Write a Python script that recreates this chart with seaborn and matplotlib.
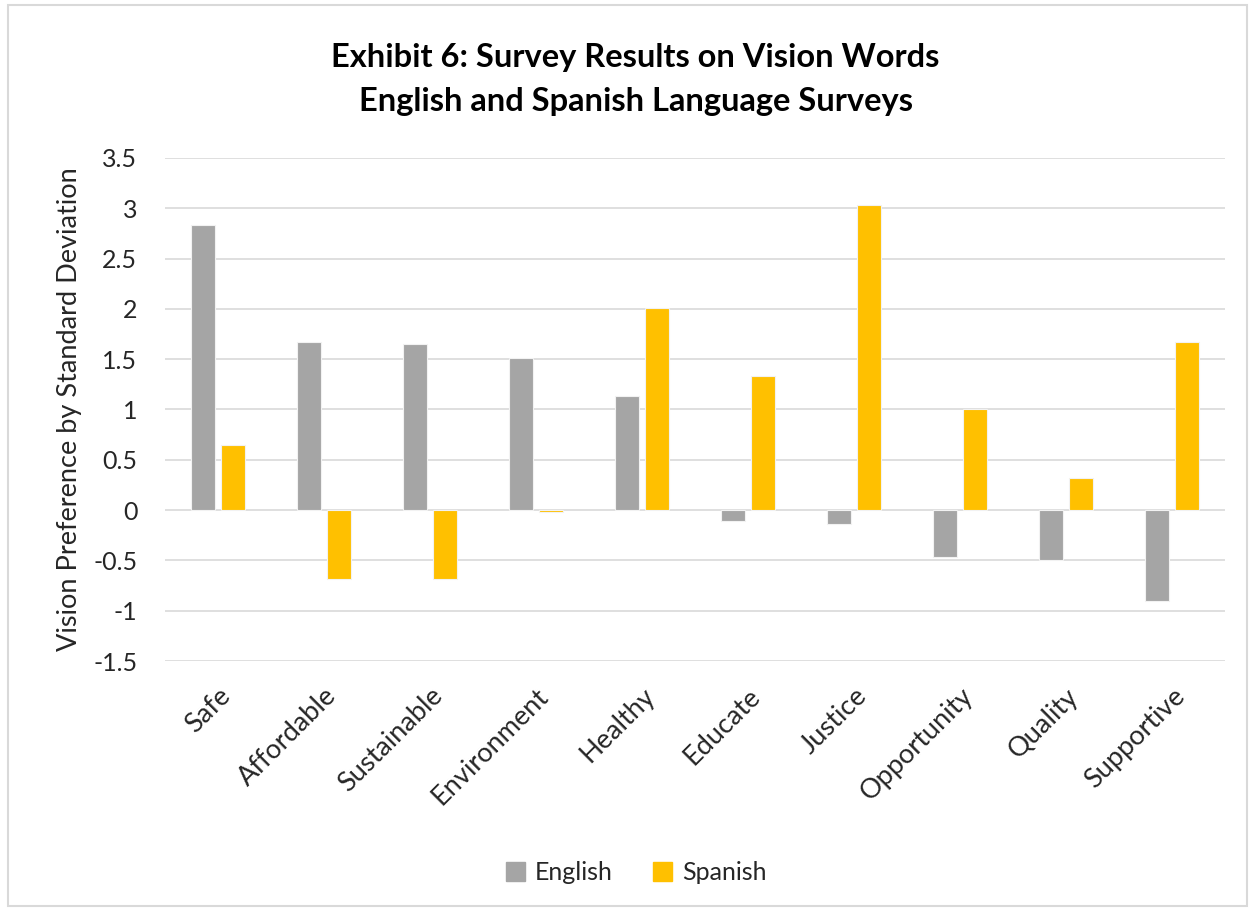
import matplotlib
matplotlib.use("Agg")
import matplotlib.pyplot as plt
from matplotlib.patches import Rectangle
import seaborn as sns
import pandas as pd

# Vision words and standardized preference scores per survey language
words = ["Safe", "Affordable", "Sustainable", "Environment", "Healthy",
         "Educate", "Justice", "Opportunity", "Quality", "Supportive"]
english = [2.83, 1.67, 1.65, 1.51, 1.13, -0.11, -0.14, -0.47, -0.50, -0.90]
spanish = [0.65, -0.68, -0.68, -0.02, 2.01, 1.33, 3.03, 1.00, 0.32, 1.67]
languages = ["English", "Spanish"]
y_ticks = [-1.5, -1, -0.5, 0, 0.5, 1, 1.5, 2, 2.5, 3, 3.5]
y_tick_labels = ["-1.5", "-1", "-0.5", "0", "0.5", "1", "1.5", "2", "2.5", "3", "3.5"]

df = pd.DataFrame({
    "word": words * 2,
    "language": [languages[0]] * len(words) + [languages[1]] * len(words),
    "score": english + spanish,
})

sns.set_theme(style="white")
plt.rcParams["font.family"] = ["Lato", "DejaVu Sans"]
text_color = "#262626"
colors = ["#A5A5A5", "#FFC000"]
fs = 18

fig = plt.figure(figsize=(12.55, 9.11), dpi=100)
ax = fig.add_axes([0.1315, 0.2744, 0.8445, 0.5522])

sns.barplot(data=df, x="word", y="score", hue="language", order=words,
            hue_order=languages, palette=colors, saturation=1,
            width=0.57, gap=0.22, ax=ax, errorbar=None,
            edgecolor="#f2f2f2", linewidth=0.8, zorder=3)

ax.set_ylim(-1.5, 3.5)
ax.set_xlim(-0.5, len(words) - 0.5)
ax.set_yticks(y_ticks)
ax.set_yticklabels(y_tick_labels, fontsize=fs, color=text_color)
ax.yaxis.grid(True, color="#d9d9d9", linewidth=1.2, zorder=0)
ax.set_axisbelow(True)
for s in ax.spines.values():
    s.set_visible(False)
ax.tick_params(axis="y", length=0, pad=20)
ax.set_xticks(range(len(words)))
ax.set_xticklabels(words, rotation=45, ha="right", rotation_mode="anchor",
                   fontsize=19.5, color=text_color)
ax.tick_params(axis="x", length=0, pad=16)
ax.set_xlabel("")
ax.set_ylabel("Vision Preference by Standard Deviation", fontsize=19.5,
              color=text_color, labelpad=8)

fig.text(0.5065, 0.937, "Exhibit 6: Survey Results on Vision Words",
         ha="center", va="center", fontsize=23.5, fontweight="bold", color="black")
fig.text(0.5065, 0.889, "English and Spanish Language Surveys",
         ha="center", va="center", fontsize=23.5, fontweight="bold", color="black")

ax.legend_.remove()
handles = [Rectangle((0, 0), 1, 1, color=c) for c in colors]
fig.legend(handles, languages, loc="center", bbox_to_anchor=(0.507, 0.042),
           ncol=2, frameon=False, fontsize=fs, handlelength=0.75,
           handleheight=0.75, handletextpad=0.4, columnspacing=1.6,
           labelcolor=text_color)

fig.add_artist(Rectangle((0.006, 0.006), 0.988, 0.988, transform=fig.transFigure,
                         fill=False, edgecolor="#d9d9d9", linewidth=1.5))

fig.savefig("out.png", dpi=100)
